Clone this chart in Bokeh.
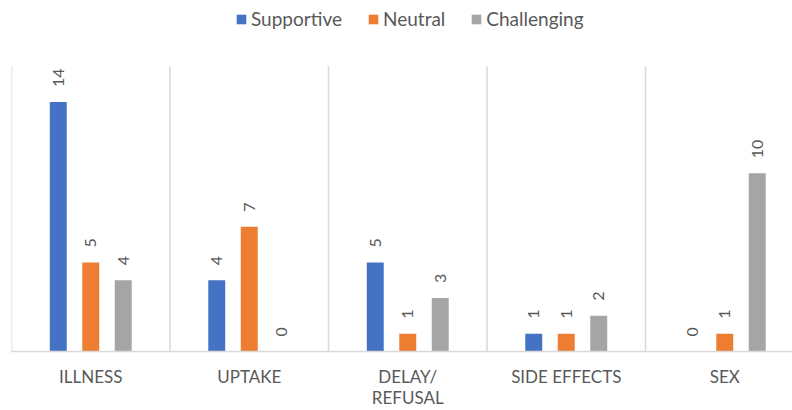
import numpy as np
from bokeh.plotting import figure
from bokeh.models import ColumnDataSource, Range1d, FixedTicker, Legend, LegendItem
from bokeh.transform import dodge
from bokeh.core.properties import value
from bokeh.embed import file_html
from bokeh.resources import INLINE

categories = ["ILLNESS", "UPTAKE", "DELAY/\nREFUSAL", "SIDE EFFECTS", "SEX"]
series = ["Supportive", "Neutral", "Challenging"]
supportive = [14, 4, 5, 1, 0]
neutral = [5, 7, 1, 1, 1]
challenging = [4, 0, 3, 2, 10]
values_by_series = [supportive, neutral, challenging]
colors = ["#4472C4", "#ED7D31", "#A5A5A5"]
offsets = [-0.205, 0.0, 0.205]
y_max = 16  # value-axis maximum of the plot area

FONT = "Lato"
TEXT_COLOR = "#595959"
GRID_COLOR = "#d9d9d9"

W, H = 792, 410
BORDER_LEFT, BORDER_BOTTOM, PLOT_TOP = 11, 58, 66
frame_h = H - BORDER_BOTTOM
plot_h = frame_h - PLOT_TOP
cat_px = 158.5

centers = [i + 0.5 for i in range(len(categories))]
bounds = list(range(len(categories)))

p = figure(width=W, height=H,
           x_range=Range1d(0, (W - BORDER_LEFT) / cat_px),
           y_range=Range1d(0, y_max * frame_h / plot_h),
           output_backend="svg", toolbar_location=None,
           min_border_left=BORDER_LEFT, min_border_right=0,
           min_border_top=0, min_border_bottom=BORDER_BOTTOM)
p.outline_line_color = None
p.background_fill_color = "white"
p.yaxis.visible = False
p.ygrid.visible = False
p.xgrid.visible = False

p.xaxis.ticker = FixedTicker(ticks=centers)
p.xaxis.major_label_overrides = {c: lab for c, lab in zip(centers, categories)}
p.xaxis.axis_line_color = GRID_COLOR
p.xaxis.axis_line_width = 1.5
p.xaxis.major_tick_line_color = None
p.xaxis.minor_tick_line_color = None
p.xaxis.major_label_text_font = FONT
p.xaxis.major_label_text_font_size = "17px"
p.xaxis.major_label_text_color = TEXT_COLOR
p.xaxis.major_label_text_line_height = 1.0
p.xaxis.major_label_standoff = 8

# category separators
p.segment(x0=bounds, y0=0, x1=bounds, y1=y_max, line_color=GRID_COLOR, line_width=1.5)

items = []
for name, vals, col, off in zip(series, values_by_series, colors, offsets):
    src = ColumnDataSource(dict(x=centers, top=vals, label=[str(v) for v in vals]))
    r = p.vbar(x=dodge("x", off, range=p.x_range), top="top", bottom=0, width=0.107,
               source=src, fill_color=col, line_color=None)
    p.text(x=dodge("x", off, range=p.x_range), y="top", text="label", source=src,
           angle=np.pi / 2, text_align="left", text_baseline="middle", y_offset=-15,
           text_font=value(FONT), text_font_size="16px", text_color=TEXT_COLOR)
    items.append(LegendItem(label=name, renderers=[r]))

legend = Legend(items=items, orientation="horizontal", location=(224, 321),
                border_line_color=None, background_fill_alpha=0,
                padding=0, margin=0, glyph_width=12, glyph_height=12,
                label_standoff=4, spacing=25,
                label_text_font=FONT, label_text_font_size="19px",
                label_text_color=TEXT_COLOR)
p.add_layout(legend)

open("out.html", "w").write(file_html(p, INLINE))
